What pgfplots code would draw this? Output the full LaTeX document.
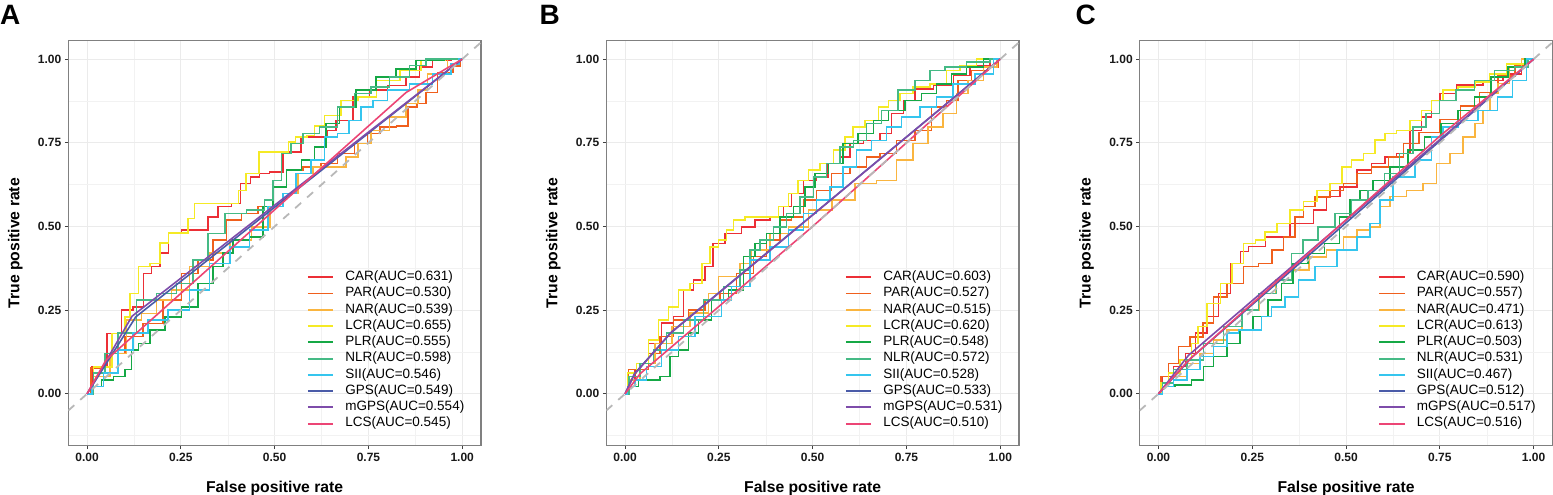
\documentclass[border=0pt]{standalone}
\usepackage{fontspec}
\setmainfont{Liberation Sans}
\usepackage{pgfplots}
\pgfplotsset{compat=1.18}
\definecolor{colCAR}{RGB}{236,47,54}
\definecolor{colORG}{RGB}{240,95,28}
\definecolor{colNAR}{RGB}{250,181,63}
\definecolor{colLCR}{RGB}{245,234,37}
\definecolor{colPLR}{RGB}{21,168,69}
\definecolor{colNLR}{RGB}{69,186,133}
\definecolor{colSII}{RGB}{53,197,238}
\definecolor{colGPS}{RGB}{74,91,168}
\definecolor{colMGPS}{RGB}{126,76,170}
\definecolor{colLCS}{RGB}{236,69,117}
\pgfplotstableread{
x y
0 0
0.021 0.077
0.052 0.082
0.079 0.121
0.123 0.171
0.176 0.21
0.23 0.28
0.274 0.36
0.318 0.40
0.354 0.459
0.389 0.519
0.434 0.539
0.478 0.559
0.513 0.618
0.549 0.668
0.602 0.678
0.646 0.688
0.69 0.718
0.735 0.748
0.761 0.777
0.80 0.797
0.85 0.80
0.86 0.857
0.90 0.867
0.907 0.90
0.96 0.96
0.99 0.98
1 1
}\parA
\pgfplotstableread{
x y
0 0
0.018 0.072
0.049 0.072
0.075 0.121
0.111 0.171
0.147 0.221
0.191 0.25
0.235 0.28
0.271 0.30
0.324 0.36
0.36 0.41
0.395 0.459
0.431 0.519
0.457 0.529
0.493 0.579
0.528 0.608
0.573 0.658
0.626 0.678
0.662 0.708
0.697 0.718
0.75 0.757
0.795 0.787
0.839 0.857
0.875 0.877
0.901 0.936
0.946 0.966
0.99 0.976
1 1
}\parB
\pgfplotstableread{
x y
0 0
0.013 0.052
0.04 0.09
0.067 0.141
0.1 0.17
0.138 0.211
0.156 0.29
0.209 0.33
0.245 0.38
0.289 0.39
0.316 0.43
0.351 0.469
0.378 0.529
0.395 0.559
0.44 0.588
0.475 0.608
0.511 0.628
0.546 0.658
0.59 0.678
0.635 0.708
0.67 0.748
0.72 0.78
0.78 0.82
0.83 0.86
0.88 0.9
0.93 0.95
0.97 0.98
1 1
}\parC
\pgfplotsset{
  rocax/.style={
    width=412.7pt, height=405pt, scale only axis,
    xmin=-0.05, xmax=1.05, ymin=-0.155, ymax=1.055,
    xtick={0,0.25,0.5,0.75,1}, xticklabels={0.00,0.25,0.50,0.75,1.00},
    ytick={0,0.25,0.5,0.75,1}, yticklabels={0.00,0.25,0.50,0.75,1.00},
    minor xtick={0.125,0.375,0.625,0.875},
    minor ytick={-0.125,0.125,0.375,0.625,0.875},
    xmajorgrids, ymajorgrids, xminorgrids, yminorgrids,
    major grid style={color=black!8, line width=0.9pt},
    minor grid style={color=black!5, line width=0.45pt},
    tick align=outside, tick pos=left,
    major tick length=3.5pt, minor tick length=0pt,
    tick style={black!75, line width=0.8pt},
    axis line style={black!50, line width=1.1pt},
    ticklabel style={font=\fontsize{12}{12}\selectfont\bfseries, text=black!90},
    xlabel={False positive rate}, ylabel={True positive rate},
    label style={font=\fontsize{15.7}{16}\selectfont\bfseries},
    x label style={at={(axis description cs:0.5,-0.116)}, anchor=base},
    y label style={at={(axis description cs:-0.1187,0.5)}, anchor=base},
    legend style={at={(axis description cs:0.578,0.4315)}, anchor=north west,
      draw=none, fill=none, inner sep=0pt, outer sep=0pt,
      font=\fontsize{13.5}{13.5}\selectfont, row sep=3.56pt,
      nodes={inner sep=0pt, text height=9.7pt, text depth=3pt},
      /tikz/every odd column/.append style={column sep=11pt}},
    legend cell align=left,
    legend image code/.code={\draw[#1, line width=1.9pt] (0pt,0pt) -- (25.6pt,0pt);},
  },
  diag/.style={forget plot, color=black!28, line width=1.8pt, dash pattern=on 8pt off 8pt},
  parst/.style={draw=colORG, color=colORG, line width=1.5pt, const plot mark mid},
}
\begin{document}
\begin{tikzpicture}
\useasboundingbox (0pt,0pt) rectangle (1553pt,495pt);
\node[anchor=north west, inner sep=0pt, font=\fontsize{28}{28}\selectfont\bfseries] at (0pt,490pt) {A};
\node[anchor=north west, inner sep=0pt, font=\fontsize{28}{28}\selectfont\bfseries] at (539.5pt,490pt) {B};
\node[anchor=north west, inner sep=0pt, font=\fontsize{28}{28}\selectfont\bfseries] at (1075.5pt,490pt) {C};
% ---------------- A ----------------
\begin{axis}[rocax, at={(68.3pt,49.3pt)}, anchor=south west]
\addplot[draw=colCAR, line width=1.5pt, const plot mark mid] coordinates {(0,0)(0.026,0.08)(0.079,0.18)(0.105,0.25)(0.141,0.26)(0.159,0.36)(0.185,0.38)(0.203,0.42)(0.23,0.48)(0.274,0.489)(0.318,0.489)(0.327,0.529)(0.371,0.559)(0.398,0.569)(0.42,0.628)(0.451,0.648)(0.469,0.658)(0.504,0.663)(0.54,0.723)(0.566,0.723)(0.575,0.767)(0.633,0.767)(0.646,0.787)(0.682,0.817)(0.735,0.887)(0.77,0.907)(0.832,0.921)(0.868,0.946)(0.903,0.976)(0.939,0.996)(1,1)};
\addlegendentry{CAR(AUC=0.631)}
\addplot[parst] table[x=x,y=y] {\parA};
\addlegendentry{PAR(AUC=0.530)}
\addplot[draw=colNAR, line width=1.5pt, const plot mark mid] coordinates {(0,0)(0.035,0.052)(0.088,0.121)(0.123,0.221)(0.168,0.24)(0.203,0.28)(0.247,0.31)(0.30,0.38)(0.354,0.42)(0.407,0.459)(0.469,0.499)(0.505,0.559)(0.54,0.598)(0.584,0.658)(0.62,0.678)(0.673,0.678)(0.708,0.708)(0.735,0.748)(0.779,0.787)(0.832,0.827)(0.868,0.867)(0.895,0.907)(0.921,0.956)(1,1)};
\addlegendentry{NAR(AUC=0.539)}
\addplot[draw=colLCR, line width=1.5pt, const plot mark mid] coordinates {(0,0)(0.035,0.08)(0.097,0.18)(0.105,0.23)(0.123,0.30)(0.15,0.38)(0.185,0.39)(0.203,0.45)(0.23,0.48)(0.265,0.48)(0.273,0.524)(0.30,0.569)(0.398,0.569)(0.408,0.608)(0.438,0.658)(0.478,0.723)(0.535,0.723)(0.54,0.752)(0.571,0.767)(0.602,0.772)(0.61,0.80)(0.655,0.832)(0.70,0.877)(0.744,0.887)(0.80,0.936)(0.868,0.966)(0.912,0.996)(1,1)};
\addlegendentry{LCR(AUC=0.655)}
\addplot[draw=colPLR, line width=1.5pt, const plot mark mid] coordinates {(0,0)(0.026,0.022)(0.052,0.042)(0.088,0.052)(0.114,0.072)(0.123,0.131)(0.15,0.151)(0.185,0.191)(0.23,0.23)(0.274,0.26)(0.318,0.33)(0.354,0.38)(0.371,0.42)(0.407,0.459)(0.46,0.469)(0.478,0.559)(0.513,0.618)(0.549,0.668)(0.593,0.698)(0.62,0.738)(0.655,0.807)(0.69,0.857)(0.744,0.907)(0.797,0.946)(0.85,0.971)(0.903,0.996)(1,1)};
\addlegendentry{PLR(AUC=0.555)}
\addplot[draw=colNLR, line width=1.5pt, const plot mark mid] coordinates {(0,0)(0.035,0.062)(0.061,0.121)(0.105,0.181)(0.159,0.28)(0.212,0.30)(0.265,0.33)(0.30,0.40)(0.345,0.479)(0.389,0.539)(0.46,0.549)(0.487,0.579)(0.505,0.638)(0.531,0.718)(0.557,0.748)(0.593,0.777)(0.646,0.797)(0.69,0.857)(0.735,0.897)(0.779,0.917)(0.832,0.946)(0.886,0.981)(0.921,1)(1,1)};
\addlegendentry{NLR(AUC=0.598)}
\addplot[draw=colSII, line width=1.5pt, const plot mark mid] coordinates {(0,0)(0.026,0.022)(0.061,0.062)(0.105,0.131)(0.141,0.181)(0.185,0.221)(0.247,0.25)(0.30,0.31)(0.354,0.39)(0.407,0.439)(0.46,0.489)(0.505,0.559)(0.54,0.598)(0.575,0.658)(0.62,0.698)(0.646,0.767)(0.69,0.777)(0.707,0.817)(0.753,0.857)(0.77,0.877)(0.832,0.907)(0.886,0.926)(0.956,0.956)(0.983,0.986)(1,1)};
\addlegendentry{SII(AUC=0.546)}
\addplot[draw=colGPS, line width=1.6pt, sharp plot] coordinates {(0,0)(0.13,0.23)(1,1)};
\addlegendentry{GPS(AUC=0.549)}
\addplot[draw=colMGPS, line width=1.6pt, sharp plot] coordinates {(0,0)(0.12,0.232)(1,1)};
\addlegendentry{mGPS(AUC=0.554)}
\addplot[draw=colLCS, line width=1.6pt, sharp plot] coordinates {(0,0)(0.05,0.1)(0.85,0.9)(1,1)};
\addlegendentry{LCS(AUC=0.545)}
\addplot[diag] coordinates {(-0.05,-0.05)(1.05,1.05)};
\end{axis}
% ---------------- B ----------------
\begin{axis}[rocax, at={(606.3pt,49.3pt)}, anchor=south west]
\addplot[draw=colCAR, line width=1.5pt, const plot mark mid] coordinates {(0,0)(0.013,0.042)(0.04,0.072)(0.084,0.151)(0.111,0.211)(0.147,0.231)(0.164,0.31)(0.2,0.34)(0.226,0.38)(0.244,0.449)(0.289,0.479)(0.333,0.499)(0.36,0.519)(0.413,0.529)(0.431,0.559)(0.457,0.598)(0.493,0.638)(0.528,0.648)(0.555,0.688)(0.591,0.708)(0.608,0.748)(0.662,0.757)(0.697,0.777)(0.724,0.837)(0.759,0.877)(0.786,0.911)(0.857,0.921)(0.893,0.951)(0.946,0.981)(1,1)};
\addlegendentry{CAR(AUC=0.603)}
\addplot[parst] table[x=x,y=y] {\parB};
\addlegendentry{PAR(AUC=0.527)}
\addplot[draw=colNAR, line width=1.5pt, const plot mark mid] coordinates {(0,0)(0.022,0.042)(0.058,0.091)(0.102,0.151)(0.147,0.201)(0.2,0.241)(0.244,0.30)(0.253,0.35)(0.298,0.35)(0.315,0.39)(0.36,0.429)(0.413,0.479)(0.457,0.499)(0.52,0.549)(0.582,0.579)(0.644,0.628)(0.697,0.638)(0.75,0.698)(0.786,0.748)(0.83,0.797)(0.866,0.837)(0.901,0.897)(0.928,0.936)(0.982,0.976)(1,1)};
\addlegendentry{NAR(AUC=0.515)}
\addplot[draw=colLCR, line width=1.5pt, const plot mark mid] coordinates {(0,0)(0.013,0.062)(0.049,0.091)(0.075,0.161)(0.102,0.221)(0.129,0.26)(0.155,0.31)(0.191,0.33)(0.218,0.39)(0.235,0.439)(0.262,0.459)(0.28,0.489)(0.298,0.519)(0.342,0.529)(0.395,0.529)(0.422,0.559)(0.448,0.598)(0.475,0.638)(0.502,0.668)(0.537,0.688)(0.573,0.728)(0.599,0.767)(0.617,0.797)(0.662,0.817)(0.688,0.857)(0.715,0.877)(0.75,0.897)(0.786,0.917)(0.839,0.926)(0.875,0.966)(0.91,0.981)(0.963,1)(1,1)};
\addlegendentry{LCR(AUC=0.620)}
\addplot[draw=colPLR, line width=1.5pt, const plot mark mid] coordinates {(0,0)(0.022,0.022)(0.049,0.042)(0.075,0.042)(0.111,0.052)(0.129,0.111)(0.155,0.131)(0.182,0.181)(0.209,0.221)(0.253,0.28)(0.298,0.31)(0.333,0.41)(0.36,0.449)(0.395,0.479)(0.431,0.529)(0.466,0.559)(0.493,0.618)(0.52,0.658)(0.564,0.688)(0.599,0.748)(0.644,0.777)(0.679,0.817)(0.724,0.847)(0.768,0.877)(0.813,0.897)(0.848,0.926)(0.893,0.956)(0.928,0.976)(0.982,1)(1,1)};
\addlegendentry{PLR(AUC=0.548)}
\addplot[draw=colNLR, line width=1.5pt, const plot mark mid] coordinates {(0,0)(0.022,0.052)(0.058,0.091)(0.093,0.131)(0.129,0.181)(0.182,0.221)(0.235,0.28)(0.289,0.32)(0.324,0.37)(0.342,0.429)(0.377,0.459)(0.413,0.499)(0.448,0.539)(0.484,0.588)(0.52,0.648)(0.555,0.688)(0.591,0.738)(0.626,0.757)(0.662,0.807)(0.706,0.847)(0.75,0.907)(0.795,0.936)(0.83,0.966)(0.875,0.976)(0.946,0.991)(1,1)};
\addlegendentry{NLR(AUC=0.572)}
\addplot[draw=colSII, line width=1.5pt, const plot mark mid] coordinates {(0,0)(0.013,0.022)(0.04,0.042)(0.075,0.082)(0.12,0.131)(0.164,0.171)(0.209,0.231)(0.253,0.231)(0.262,0.28)(0.306,0.32)(0.36,0.40)(0.413,0.439)(0.457,0.489)(0.493,0.539)(0.528,0.579)(0.564,0.618)(0.599,0.678)(0.635,0.728)(0.679,0.757)(0.715,0.797)(0.759,0.827)(0.813,0.857)(0.848,0.887)(0.901,0.926)(0.964,0.956)(1,1)};
\addlegendentry{SII(AUC=0.528)}
\addplot[draw=colGPS, line width=1.6pt, sharp plot] coordinates {(0,0)(0.025,0.06)(0.124,0.185)(1,1)};
\addlegendentry{GPS(AUC=0.533)}
\addplot[draw=colMGPS, line width=1.6pt, sharp plot] coordinates {(0,0)(0.025,0.058)(0.12,0.18)(1,1)};
\addlegendentry{mGPS(AUC=0.531)}
\addplot[draw=colLCS, line width=1.6pt, sharp plot] coordinates {(0,0)(0.04,0.06)(0.5,0.5)(1,1)};
\addlegendentry{LCS(AUC=0.510)}
\addplot[diag] coordinates {(-0.05,-0.05)(1.05,1.05)};
\end{axis}
% ---------------- C ----------------
\begin{axis}[rocax, at={(1139.7pt,49.3pt)}, anchor=south west]
\addplot[draw=colCAR, line width=1.5pt, const plot mark mid] coordinates {(0,0)(0.022,0.052)(0.058,0.082)(0.085,0.12)(0.112,0.181)(0.147,0.231)(0.174,0.30)(0.209,0.39)(0.227,0.425)(0.254,0.44)(0.316,0.469)(0.386,0.509)(0.44,0.549)(0.457,0.589)(0.511,0.618)(0.546,0.668)(0.59,0.688)(0.617,0.708)(0.652,0.718)(0.688,0.787)(0.715,0.827)(0.741,0.877)(0.759,0.897)(0.83,0.922)(0.9,0.936)(0.936,0.956)(1,1)};
\addlegendentry{CAR(AUC=0.590)}
\addplot[parst] table[x=x,y=y] {\parC};
\addlegendentry{PAR(AUC=0.557)}
\addplot[draw=colNAR, line width=1.5pt, const plot mark mid] coordinates {(0,0)(0.022,0.032)(0.058,0.052)(0.093,0.091)(0.129,0.121)(0.164,0.161)(0.2,0.191)(0.245,0.25)(0.29,0.3)(0.333,0.34)(0.38,0.37)(0.422,0.409)(0.475,0.429)(0.511,0.469)(0.546,0.489)(0.582,0.499)(0.599,0.559)(0.635,0.589)(0.688,0.608)(0.723,0.628)(0.759,0.688)(0.794,0.718)(0.83,0.767)(0.856,0.807)(0.874,0.847)(0.892,0.897)(0.918,0.927)(0.954,0.976)(0.98,1)(1,1)};
\addlegendentry{NAR(AUC=0.471)}
\addplot[draw=colLCR, line width=1.5pt, const plot mark mid] coordinates {(0,0)(0.013,0.032)(0.04,0.062)(0.075,0.101)(0.1,0.15)(0.112,0.201)(0.147,0.27)(0.183,0.33)(0.209,0.39)(0.245,0.449)(0.271,0.459)(0.298,0.484)(0.333,0.509)(0.369,0.549)(0.404,0.574)(0.44,0.608)(0.475,0.628)(0.502,0.678)(0.528,0.698)(0.564,0.718)(0.59,0.758)(0.617,0.777)(0.652,0.787)(0.688,0.817)(0.715,0.847)(0.741,0.877)(0.777,0.907)(0.821,0.917)(0.865,0.931)(0.9,0.956)(0.954,0.986)(1,1)};
\addlegendentry{LCR(AUC=0.613)}
\addplot[draw=colPLR, line width=1.5pt, const plot mark mid] coordinates {(0,0)(0.022,0.022)(0.066,0.027)(0.111,0.042)(0.129,0.082)(0.164,0.111)(0.2,0.151)(0.235,0.191)(0.27,0.231)(0.315,0.28)(0.341,0.33)(0.377,0.39)(0.421,0.419)(0.465,0.449)(0.501,0.529)(0.519,0.579)(0.554,0.608)(0.59,0.638)(0.643,0.678)(0.687,0.728)(0.731,0.767)(0.776,0.807)(0.82,0.847)(0.864,0.887)(0.909,0.946)(0.953,0.976)(1,1)};
\addlegendentry{PLR(AUC=0.503)}
\addplot[draw=colNLR, line width=1.5pt, const plot mark mid] coordinates {(0,0)(0.022,0.032)(0.058,0.072)(0.093,0.101)(0.146,0.151)(0.2,0.201)(0.244,0.25)(0.288,0.30)(0.341,0.34)(0.368,0.419)(0.403,0.459)(0.448,0.499)(0.492,0.539)(0.536,0.579)(0.581,0.608)(0.625,0.658)(0.66,0.718)(0.696,0.797)(0.731,0.837)(0.767,0.877)(0.82,0.907)(0.864,0.936)(0.926,0.966)(0.971,0.976)(1,1)};
\addlegendentry{NLR(AUC=0.531)}
\addplot[draw=colSII, line width=1.5pt, const plot mark mid] coordinates {(0,0)(0.022,0.022)(0.058,0.042)(0.093,0.072)(0.129,0.111)(0.164,0.141)(0.2,0.181)(0.226,0.191)(0.27,0.191)(0.279,0.231)(0.324,0.26)(0.351,0.29)(0.395,0.34)(0.44,0.38)(0.511,0.429)(0.546,0.469)(0.582,0.509)(0.599,0.579)(0.652,0.648)(0.715,0.698)(0.741,0.767)(0.777,0.797)(0.82,0.817)(0.882,0.847)(0.926,0.887)(0.962,0.936)(1,1)};
\addlegendentry{SII(AUC=0.467)}
\addplot[draw=colGPS, line width=1.6pt, sharp plot] coordinates {(0,0)(0.09,0.11)(1,1)};
\addlegendentry{GPS(AUC=0.512)}
\addplot[draw=colMGPS, line width=1.6pt, sharp plot] coordinates {(0,0)(0.08,0.115)(1,1)};
\addlegendentry{mGPS(AUC=0.517)}
\addplot[draw=colLCS, line width=1.6pt, sharp plot] coordinates {(0,0)(0.08,0.1)(0.75,0.77)(1,1)};
\addlegendentry{LCS(AUC=0.516)}
\addplot[diag] coordinates {(-0.05,-0.05)(1.05,1.05)};
\end{axis}
\end{tikzpicture}
\end{document}
